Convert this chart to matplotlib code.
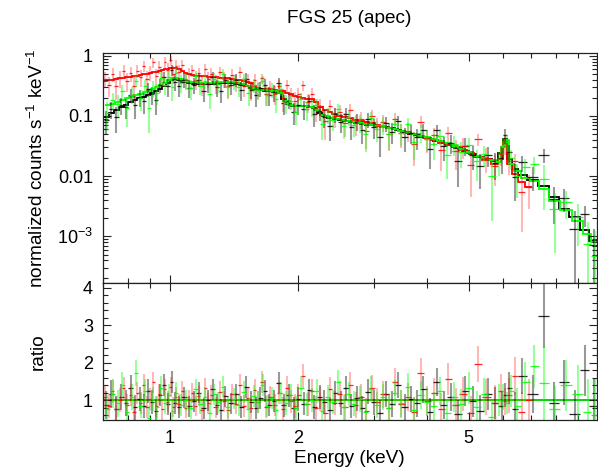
import matplotlib
matplotlib.use("Agg")
import matplotlib.pyplot as plt
import numpy as np
from matplotlib.ticker import FixedLocator, FuncFormatter, MultipleLocator, LogLocator, NullFormatter

plt.rcParams["font.family"] = ["Liberation Sans", "DejaVu Sans"]
plt.rcParams["mathtext.fontset"] = "custom"
plt.rcParams["mathtext.rm"] = "Liberation Sans"
plt.rcParams["mathtext.it"] = "Liberation Sans:italic"
plt.rcParams["mathtext.default"] = "regular"

# --- MOS1 (black): bin centres (keV), model (counts/s/keV), data/model ratio, ratio error
e_black = [0.71, 0.73, 0.75, 0.77, 0.79, 0.81, 0.83, 0.85, 0.87, 0.89,
           0.91, 0.93, 0.95, 0.97, 0.99, 1.01, 1.03, 1.05, 1.08, 1.11,
           1.14, 1.17, 1.20, 1.23, 1.26, 1.29, 1.32, 1.35, 1.39, 1.43,
           1.47, 1.51, 1.55, 1.59, 1.63, 1.67, 1.71, 1.75, 1.80, 1.85,
           1.90, 1.95, 2.00, 2.06, 2.12, 2.18, 2.24, 2.30, 2.37, 2.44,
           2.51, 2.58, 2.66, 2.74, 2.82, 2.91, 3.00, 3.10, 3.20, 3.31,
           3.42, 3.54, 3.66, 3.79, 3.92, 4.06, 4.21, 4.37, 4.54, 4.72,
           4.91, 5.11, 5.32, 5.54, 5.77, 5.97, 6.08, 6.20, 6.40, 6.65,
           7.05, 7.50, 7.90, 8.35, 8.85, 9.35, 9.80]
m_black = [0.098, 0.112, 0.128, 0.14, 0.152, 0.172, 0.185, 0.198, 0.21, 0.225,
           0.24, 0.26, 0.285, 0.315, 0.35, 0.39, 0.405, 0.39, 0.365, 0.35,
           0.34, 0.335, 0.335, 0.336, 0.34, 0.345, 0.352, 0.357, 0.355, 0.345,
           0.33, 0.31, 0.29, 0.278, 0.27, 0.265, 0.26, 0.255, 0.245, 0.19,
           0.158, 0.148, 0.146, 0.145, 0.143, 0.135, 0.11, 0.10, 0.094, 0.089,
           0.086, 0.083, 0.079, 0.077, 0.075, 0.072, 0.070, 0.068, 0.065, 0.062,
           0.058, 0.055, 0.051, 0.048, 0.045, 0.042, 0.039, 0.036, 0.033, 0.029,
           0.026, 0.023, 0.021, 0.0193, 0.0178, 0.024, 0.042, 0.019, 0.013, 0.0103,
           0.0085, 0.0068, 0.0045, 0.0029, 0.0021, 0.0013, 0.00085]
r_black = [0.87, 1.16, 0.76, 1.08, 0.92, 1.32, 0.81, 1.03, 0.84, 1.24,
           0.95, 0.71, 1.13, 1.40, 0.89, 1.48, 0.92, 0.81, 1.08, 0.84,
           0.97, 1.19, 0.78, 1.00, 1.29, 0.87, 0.74, 1.10, 0.92, 1.16,
           0.82, 1.35, 0.94, 0.79, 1.06, 1.24, 0.87, 0.98, 1.45, 0.86,
           1.13, 0.78, 1.03, 0.90, 1.26, 0.81, 1.08, 0.95, 0.73, 1.19,
           0.92, 1.32, 0.84, 1.05, 0.78, 1.22, 0.94, 0.65, 1.16, 0.89,
           1.40, 0.81, 1.03, 0.92, 1.29, 0.68, 1.48, 0.87, 1.08, 0.62,
           1.24, 0.97, 0.71, 1.16, 0.92, 0.84, 1.13, 1.32, 0.76, 1.64,
           1.16, 3.25, 0.92, 1.48, 0.62, 1.80, 0.84]
s_black = [0.38, 0.37, 0.36, 0.35, 0.34, 0.34, 0.33, 0.33, 0.32, 0.32,
           0.31, 0.31, 0.30, 0.30, 0.30, 0.29, 0.29, 0.29, 0.28, 0.28,
           0.28, 0.28, 0.28, 0.28, 0.28, 0.28, 0.28, 0.28, 0.28, 0.28,
           0.29, 0.29, 0.29, 0.29, 0.30, 0.30, 0.30, 0.30, 0.30, 0.31,
           0.31, 0.31, 0.31, 0.31, 0.31, 0.32, 0.32, 0.32, 0.32, 0.32,
           0.32, 0.33, 0.33, 0.33, 0.33, 0.33, 0.34, 0.34, 0.34, 0.34,
           0.35, 0.35, 0.35, 0.36, 0.36, 0.37, 0.37, 0.38, 0.38, 0.39,
           0.40, 0.41, 0.42, 0.43, 0.43, 0.38, 0.32, 0.43, 0.46, 0.48,
           0.50, 0.85, 0.56, 0.60, 0.64, 0.68, 0.72]

# --- pn (red)
e_red = [0.705, 0.72, 0.735, 0.75, 0.765, 0.78, 0.795, 0.81, 0.825, 0.84,
         0.855, 0.87, 0.885, 0.90, 0.915, 0.93, 0.945, 0.96, 0.975, 0.99,
         1.005, 1.02, 1.035, 1.05, 1.07, 1.09, 1.11, 1.13, 1.15, 1.17,
         1.19, 1.21, 1.23, 1.25, 1.28, 1.31, 1.34, 1.37, 1.40, 1.43,
         1.46, 1.49, 1.52, 1.55, 1.58, 1.61, 1.64, 1.68, 1.72, 1.76,
         1.80, 1.84, 1.88, 1.92, 1.96, 2.00, 2.05, 2.10, 2.15, 2.20,
         2.25, 2.31, 2.37, 2.43, 2.50, 2.57, 2.64, 2.72, 2.80, 2.88,
         2.97, 3.06, 3.16, 3.26, 3.37, 3.48, 3.60, 3.73, 3.86, 4.00,
         4.15, 4.31, 4.48, 4.66, 4.85, 5.05, 5.27, 5.50, 5.75, 5.95,
         6.07, 6.20, 6.40, 6.65, 6.90]
m_red = [0.38, 0.39, 0.40, 0.41, 0.42, 0.43, 0.44, 0.45, 0.46, 0.47,
         0.48, 0.49, 0.50, 0.51, 0.53, 0.545, 0.56, 0.58, 0.60, 0.61,
         0.62, 0.625, 0.62, 0.60, 0.56, 0.52, 0.50, 0.48, 0.47, 0.465,
         0.46, 0.455, 0.45, 0.445, 0.44, 0.435, 0.43, 0.425, 0.415, 0.40,
         0.39, 0.375, 0.365, 0.35, 0.32, 0.295, 0.285, 0.28, 0.275, 0.27,
         0.265, 0.258, 0.245, 0.228, 0.215, 0.205, 0.198, 0.193, 0.188, 0.17,
         0.14, 0.125, 0.115, 0.108, 0.101, 0.096, 0.091, 0.087, 0.083, 0.079,
         0.076, 0.072, 0.068, 0.064, 0.061, 0.057, 0.053, 0.050, 0.047, 0.043,
         0.040, 0.036, 0.033, 0.030, 0.027, 0.024, 0.021, 0.0185, 0.016, 0.019,
         0.037, 0.016, 0.011, 0.0080, 0.0066]
r_red = [1.08, 0.84, 1.24, 0.76, 1.00, 1.32, 0.87, 1.13, 0.68, 1.19,
         0.92, 1.40, 0.81, 1.03, 1.48, 0.84, 1.16, 0.76, 1.29, 0.95,
         1.35, 0.81, 1.08, 0.89, 1.24, 0.78, 1.00, 1.19, 0.84, 1.10,
         0.74, 1.32, 0.92, 1.13, 0.81, 1.22, 0.97, 0.73, 1.16, 0.90,
         1.40, 0.84, 1.05, 0.79, 1.26, 0.94, 1.48, 0.82, 1.08, 0.87,
         1.19, 0.76, 1.32, 0.97, 0.84, 1.13, 1.64, 0.89, 1.24, 0.79,
         1.03, 0.65, 1.29, 0.92, 1.16, 0.81, 1.40, 0.87, 1.08, 0.71,
         1.32, 0.95, 1.16, 0.78, 1.48, 0.90, 1.08, 0.68, 1.72, 0.97,
         1.19, 0.76, 1.56, 0.87, 1.16, 0.65, 1.96, 1.08, 0.92, 1.24,
         0.97, 1.13, 1.64, 0.68, 1.00]
s_red = [0.32, 0.32, 0.31, 0.31, 0.31, 0.30, 0.30, 0.30, 0.30, 0.29,
         0.29, 0.29, 0.29, 0.29, 0.28, 0.28, 0.28, 0.28, 0.28, 0.28,
         0.27, 0.27, 0.27, 0.27, 0.27, 0.27, 0.27, 0.27, 0.27, 0.27,
         0.27, 0.27, 0.27, 0.27, 0.28, 0.28, 0.28, 0.28, 0.28, 0.28,
         0.29, 0.29, 0.29, 0.29, 0.29, 0.29, 0.30, 0.30, 0.30, 0.30,
         0.30, 0.31, 0.31, 0.31, 0.31, 0.31, 0.32, 0.32, 0.32, 0.32,
         0.33, 0.33, 0.33, 0.33, 0.34, 0.34, 0.34, 0.34, 0.35, 0.35,
         0.35, 0.36, 0.36, 0.37, 0.37, 0.38, 0.38, 0.39, 0.40, 0.40,
         0.41, 0.42, 0.43, 0.44, 0.45, 0.46, 0.47, 0.48, 0.49, 0.46,
         0.36, 0.47, 0.50, 0.53, 0.56]

# --- MOS2 (green)
e_green = [0.715, 0.735, 0.755, 0.775, 0.795, 0.815, 0.835, 0.855, 0.875, 0.895,
           0.915, 0.935, 0.955, 0.975, 0.995, 1.015, 1.035, 1.06, 1.09, 1.12,
           1.15, 1.18, 1.21, 1.24, 1.27, 1.30, 1.33, 1.37, 1.41, 1.45,
           1.49, 1.53, 1.57, 1.61, 1.65, 1.69, 1.73, 1.77, 1.82, 1.87,
           1.92, 1.97, 2.03, 2.09, 2.15, 2.21, 2.27, 2.34, 2.41, 2.48,
           2.55, 2.62, 2.70, 2.78, 2.87, 2.96, 3.05, 3.15, 3.25, 3.36,
           3.48, 3.60, 3.73, 3.86, 4.00, 4.14, 4.29, 4.45, 4.62, 4.81,
           5.01, 5.22, 5.44, 5.67, 5.90, 6.03, 6.14, 6.28, 6.50, 6.78,
           7.10, 7.50, 7.95, 8.45, 9.00, 9.50, 9.85]
m_green = [0.15, 0.16, 0.172, 0.185, 0.198, 0.21, 0.222, 0.235, 0.25, 0.265,
           0.28, 0.30, 0.325, 0.355, 0.39, 0.425, 0.43, 0.41, 0.385, 0.37,
           0.36, 0.355, 0.355, 0.357, 0.36, 0.365, 0.37, 0.372, 0.365, 0.35,
           0.335, 0.315, 0.295, 0.28, 0.272, 0.267, 0.262, 0.256, 0.24, 0.178,
           0.155, 0.148, 0.146, 0.144, 0.142, 0.125, 0.104, 0.097, 0.092, 0.088,
           0.085, 0.082, 0.079, 0.077, 0.074, 0.071, 0.069, 0.066, 0.064, 0.061,
           0.057, 0.054, 0.050, 0.047, 0.044, 0.041, 0.038, 0.035, 0.032, 0.028,
           0.025, 0.022, 0.020, 0.0183, 0.0175, 0.030, 0.040, 0.016, 0.012, 0.0095,
           0.0083, 0.0062, 0.0038, 0.0027, 0.0018, 0.0011, 0.0008]
r_green = [0.76, 1.16, 0.92, 1.40, 0.68, 1.08, 1.72, 0.84, 1.24, 0.52,
           1.03, 0.81, 1.32, 0.92, 1.13, 0.71, 1.19, 0.87, 1.00, 0.78,
           1.29, 0.90, 1.08, 0.65, 1.16, 0.94, 1.35, 0.81, 1.03, 0.86,
           1.22, 0.76, 1.10, 0.95, 1.40, 0.84, 1.05, 0.74, 1.19, 0.92,
           1.13, 0.79, 1.32, 0.89, 1.00, 1.24, 0.71, 1.08, 0.94, 1.48,
           0.81, 1.16, 0.90, 1.03, 0.68, 1.29, 0.87, 1.08, 0.78, 1.19,
           0.92, 1.35, 0.73, 1.13, 0.95, 0.84, 1.24, 0.65, 1.08, 0.89,
           1.32, 0.81, 1.16, 0.55, 1.00, 1.08, 0.92, 1.24, 0.84, 1.48,
           1.90, 1.45, 0.76, 1.40, 1.16, 0.68, 0.60]
s_green = [0.38, 0.37, 0.36, 0.35, 0.35, 0.34, 0.34, 0.33, 0.33, 0.32,
           0.32, 0.31, 0.31, 0.30, 0.30, 0.29, 0.29, 0.29, 0.28, 0.28,
           0.28, 0.28, 0.28, 0.28, 0.28, 0.28, 0.28, 0.28, 0.28, 0.28,
           0.29, 0.29, 0.29, 0.29, 0.30, 0.30, 0.30, 0.30, 0.30, 0.31,
           0.31, 0.31, 0.31, 0.31, 0.32, 0.32, 0.32, 0.32, 0.32, 0.33,
           0.33, 0.33, 0.33, 0.34, 0.34, 0.34, 0.34, 0.35, 0.35, 0.35,
           0.36, 0.36, 0.36, 0.37, 0.37, 0.38, 0.38, 0.39, 0.40, 0.41,
           0.42, 0.43, 0.44, 0.45, 0.43, 0.34, 0.30, 0.43, 0.48, 0.53,
           0.58, 1.00, 0.62, 0.68, 0.78, 0.88, 0.95]

series = [
    ("#000000", 0.40, e_black, m_black, r_black, s_black),
    ("#ff0000", 0.28, e_red, m_red, r_red, s_red),
    ("#00ff00", 0.40, e_green, m_green, r_green, s_green),
]


def bin_edges(centers):
    # geometric midpoints between neighbouring bin centres
    c = np.asarray(centers)
    mid = np.sqrt(c[1:] * c[:-1])
    return np.concatenate([[c[0] ** 2 / mid[0]], mid, [c[-1] ** 2 / mid[-1]]])


fig = plt.figure(figsize=(5.98, 4.67), dpi=100)
left, width = 0.1717, 0.8258
ax1 = fig.add_axes([left, 0.3946, width, 0.8859 - 0.3946])
ax2 = fig.add_axes([left, 0.1006, width, 0.3946 - 0.1006], sharex=ax1)

for color, a, e, m, r, s in series:
    e = np.asarray(e)
    m = np.asarray(m)
    r = np.asarray(r)
    s = np.asarray(s)
    edges = bin_edges(e)
    xerr = [e - edges[:-1], edges[1:] - e]
    data = r * m
    derr = s * m
    # vertical error bars (pale) and bin widths (solid)
    ax1.errorbar(e, data, yerr=derr, fmt="none", ecolor=color, alpha=a, elinewidth=1.5)
    ax1.errorbar(e, data, xerr=xerr, fmt="none", ecolor=color, alpha=0.85, elinewidth=0.9)
    ax2.errorbar(e, r, yerr=s, fmt="none", ecolor=color, alpha=a, elinewidth=1.5)
    ax2.errorbar(e, r, xerr=xerr, fmt="none", ecolor=color, alpha=0.85, elinewidth=0.9)

for color, a, e, m, r, s in series:
    edges = bin_edges(e)
    ax1.stairs(m, edges, color=color, lw=1.3, baseline=None)
    ax2.stairs(np.ones(len(e)), edges, color=color, lw=1.1, baseline=None)

ax1.set_xscale("log")
ax1.set_yscale("log")
ax1.set_xlim(0.697, 9.95)
ax1.set_ylim(1.7e-4, 1.1)
ax2.set_ylim(0.467, 4.13)

ylabels = {1.0: "1", 0.1: "0.1", 0.01: "0.01", 0.001: r"$10^{-3}$"}
ax1.yaxis.set_major_locator(FixedLocator([1e-3, 1e-2, 1e-1, 1.0]))
ax1.yaxis.set_major_formatter(FuncFormatter(lambda v, p: ylabels.get(round(v, 6), "")))
ax1.yaxis.set_minor_locator(LogLocator(base=10, subs=np.arange(2, 10), numticks=20))
ax1.yaxis.set_minor_formatter(NullFormatter())

ax2.xaxis.set_major_locator(FixedLocator([1, 2, 5]))
ax2.xaxis.set_minor_locator(FixedLocator([0.7, 0.8, 0.9, 3, 4, 6, 7, 8, 9]))
ax2.xaxis.set_major_formatter(FuncFormatter(lambda v, p: f"{v:g}"))
ax2.xaxis.set_minor_formatter(NullFormatter())
ax2.yaxis.set_major_locator(MultipleLocator(1))
ax2.yaxis.set_minor_locator(MultipleLocator(0.2))

for ax in (ax1, ax2):
    ax.tick_params(which="both", direction="in", top=True, right=True,
                   labelsize=13, pad=7, width=0.8, color="#222222")
    ax.tick_params(which="major", length=6)
    ax.tick_params(which="minor", length=3.5)
    for sp in ax.spines.values():
        sp.set_linewidth(0.9)
        sp.set_color("#222222")
ax1.tick_params(axis="x", which="both", labelbottom=False)

ax1.set_ylabel(r"normalized counts s$^{-1}$ keV$^{-1}$", fontsize=13.7)
ax2.set_ylabel("ratio", fontsize=13.7)
ax1.yaxis.set_label_coords(-0.113, 0.5)
ax2.yaxis.set_label_coords(-0.113, 0.5)
ax2.set_xlabel("Energy (keV)", fontsize=13.7, labelpad=2)
ax1.set_title("FGS 25 (apec)", fontsize=13.7, pad=22)

fig.savefig("out.png", dpi=100)
